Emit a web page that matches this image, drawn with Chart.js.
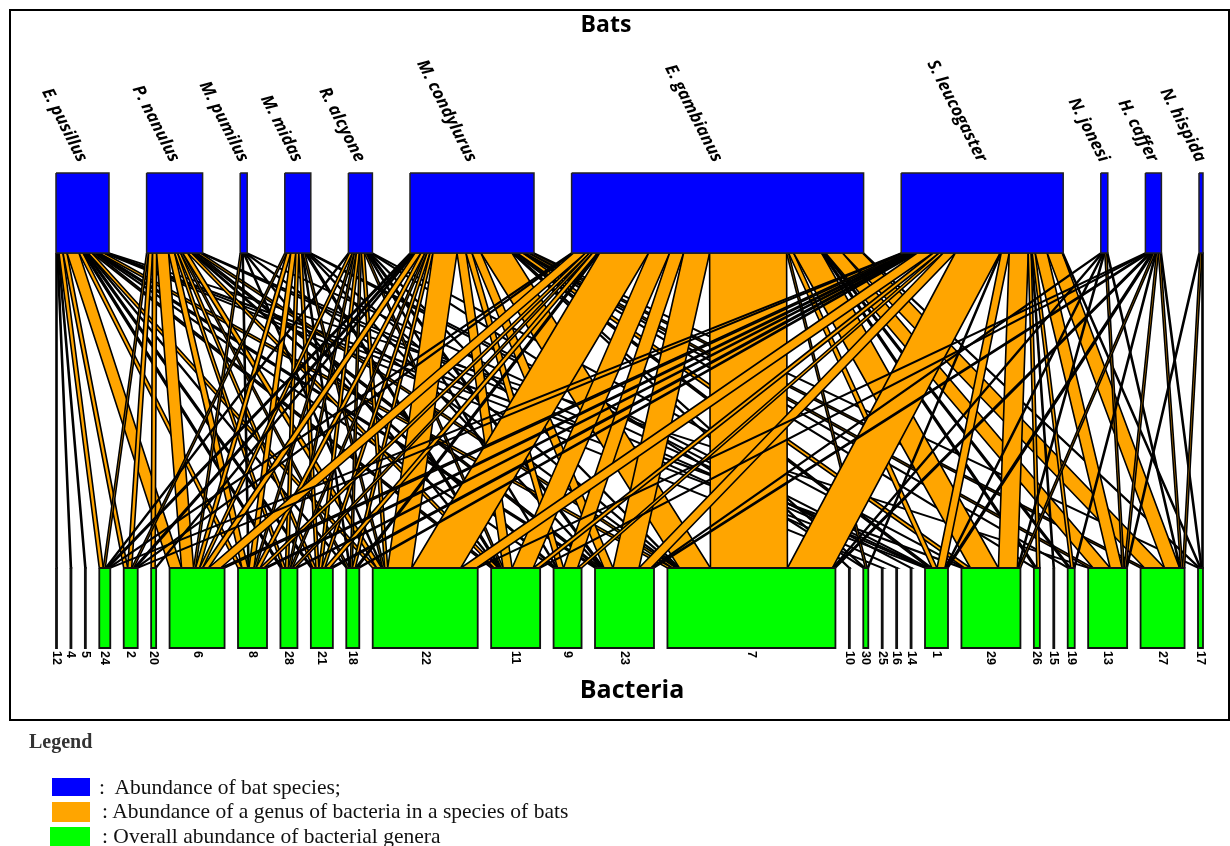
<!DOCTYPE html>
<html>
<head>
<meta charset="utf-8">
<title>Bats - Bacteria network</title>
<script src="https://cdn.jsdelivr.net/npm/chart.js@4/dist/chart.umd.min.js"></script>
<style>
  body { margin: 0; background: #fff; }
  #wrap { position: relative; width: 1230px; height: 846px; overflow: hidden; }
  #myChart { position: absolute; left: 0; top: 0; }
  .lg { position: absolute; font-family: "Liberation Serif", "Times New Roman", serif; font-size: 21.5px; line-height: 22px; color: #111; white-space: nowrap; }
  .sw { position: absolute; }
</style>
</head>
<body>
<div id="wrap">
  <canvas id="myChart" width="1230" height="846"></canvas>
  <div class="lg" style="left:29px;top:730px;font-weight:bold;font-size:20px;color:#333;">Legend</div>
  <div class="sw" style="left:52px;top:778px;width:38px;height:18px;background:#0000ff;"></div>
  <div class="lg" style="left:99px;top:776px;">:&nbsp; Abundance of bat species;</div>
  <div class="sw" style="left:52px;top:802px;width:38px;height:20px;background:#ffa500;"></div>
  <div class="lg" style="left:102px;top:800px;">: Abundance of a genus of bacteria in a species of bats</div>
  <div class="sw" style="left:50px;top:827px;width:40px;height:19px;background:#00ff00;"></div>
  <div class="lg" style="left:102px;top:825px;">: Overall abundance of bacterial genera</div>
</div>
<script>
// bat species (top row) and bacterial genera (bottom row), in drawing order
const bats = ['E. pusillus', 'P. nanulus', 'M. pumilus', 'M. midas', 'R. alcyone', 'M. condylurus',
              'E. gambianus', 'S. leucogaster', 'N. jonesi', 'H. caffer', 'N. hispida'];
const bacteria = ['12', '4', '5', '24', '2', '20', '6', '8', '28', '21', '18', '22', '11', '9', '23', '7',
                  '10', '30', '25', '16', '14', '1', '29', '26', '15', '19', '13', '27', '17'];

// abundance of each genus in each bat species (same order as bacteria)
const ePusillus     = [1, 1, 1, 4, 4, 0, 12, 4, 2, 2, 1, 4, 3, 1, 3, 5, 0, 0, 1, 0, 0, 1, 2, 0, 0, 0, 1, 0, 0];
const pNanulus      = [0, 0, 0, 2, 4, 4, 12, 6, 3, 3, 2, 5, 4, 2, 3, 4, 0, 0, 0, 1, 0, 1, 0, 0, 0, 0, 0, 0, 0];
const mPumilus      = [0, 0, 0, 0, 0, 0, 2, 1, 0, 0, 0, 1, 1, 0, 0, 1, 0, 0, 0, 0, 0, 1, 0, 0, 0, 0, 0, 0, 0];
const mMidas        = [0, 0, 0, 0, 2, 0, 4, 5, 3, 3, 1, 2, 2, 0, 1, 1, 0, 0, 0, 0, 1, 1, 0, 0, 0, 0, 0, 0, 0];
const rAlcyone      = [0, 0, 0, 1, 0, 0, 3, 2, 2, 3, 2, 3, 2, 1, 2, 1, 0, 1, 0, 0, 0, 0, 1, 0, 0, 0, 0, 0, 0];
const mCondylurus   = [0, 0, 0, 2, 2, 1, 6, 4, 2, 3, 3, 24, 9, 6, 9, 31, 1, 1, 0, 0, 0, 3, 6, 1, 0, 1, 4, 4, 1];
const eGambianus    = [0, 0, 0, 1, 1, 0, 12, 4, 3, 5, 2, 49, 21, 14, 26, 77, 0, 2, 0, 0, 0, 5, 28, 2, 0, 2, 17, 20, 1];
const sLeucogaster  = [0, 0, 0, 1, 1, 0, 4, 3, 2, 3, 2, 16, 6, 4, 12, 45, 0, 1, 0, 0, 0, 8, 19, 3, 1, 3, 12, 15, 1];
const nJonesi       = [0, 0, 0, 0, 0, 0, 0, 0, 0, 0, 0, 0, 0, 0, 1, 1, 0, 0, 0, 0, 0, 1, 1, 0, 0, 0, 2, 1, 0];
const hCaffer       = [0, 0, 0, 0, 0, 0, 0, 0, 0, 0, 0, 1, 1, 0, 2, 2, 0, 0, 0, 0, 0, 2, 2, 0, 0, 1, 2, 2, 1];
const nHispida      = [0, 0, 0, 0, 0, 0, 0, 0, 0, 0, 0, 0, 0, 0, 0, 0, 0, 0, 0, 0, 0, 0, 0, 0, 0, 0, 1, 2, 1];

const web = [ePusillus, pNanulus, mPumilus, mMidas, rAlcyone, mCondylurus,
             eGambianus, sLeucogaster, nJonesi, hCaffer, nHispida];

// layout (page units)
const rowLeft = 56, rowRight = 1203;
const topBox = [173, 253];
const lowBox = [568, 648];

const sum = a => a.reduce((s, v) => s + v, 0);
const batTotal = web.map(sum);
const bacTotal = bacteria.map((_, j) => sum(web.map(r => r[j])));
const grand = sum(batTotal);

function rowStarts(totals) {
  const gap = (rowRight - rowLeft - grand) / (totals.length - 1);
  let x = rowLeft;
  return totals.map(t => { const s = x; x += t + gap; return s; });
}
const batStart = rowStarts(batTotal);
const bacStart = rowStarts(bacTotal);

function rect(x0, x1, y0, y1) {
  return [{x: x0, y: y0}, {x: x1, y: y0}, {x: x1, y: y1}, {x: x0, y: y1}, {x: x0, y: y0}];
}

const datasets = [];
// links: orange bands, top segment ordered by genus, bottom segment ordered by bat
const batCur = batStart.slice();
const bacCur = bacStart.slice();
const links = [];
web.forEach((row, i) => {
  row.forEach((v, j) => {
    if (!v) return;
    const t0 = batCur[i], b0 = bacCur[j];
    batCur[i] += v; bacCur[j] += v;
    links.push([
      {x: t0, y: topBox[1]}, {x: t0 + v, y: topBox[1]},
      {x: b0 + v, y: lowBox[0]}, {x: b0, y: lowBox[0]}, {x: t0, y: topBox[1]}
    ]);
  });
});
links.forEach((pts, k) => {
  datasets.push({
    data: pts, showLine: true, fill: 'shape', tension: 0,
    backgroundColor: '#ffa500', borderColor: '#000', borderWidth: 1.6,
    pointRadius: 0, order: 1 + links.length - k
  });
});
// bat boxes
batTotal.forEach((t, i) => {
  datasets.push({
    data: rect(batStart[i], batStart[i] + t, topBox[0], topBox[1]),
    showLine: true, fill: 'shape', tension: 0,
    backgroundColor: '#0000ff', borderColor: '#222', borderWidth: 1.5, pointRadius: 0, order: 0
  });
});
// bacteria boxes
bacTotal.forEach((t, j) => {
  datasets.push({
    data: rect(bacStart[j], bacStart[j] + t, lowBox[0], lowBox[1]),
    showLine: true, fill: 'shape', tension: 0,
    backgroundColor: '#00ff00', borderColor: '#111', borderWidth: 1.8, pointRadius: 0, order: 0
  });
});

// frame, titles and rotated labels
const webText = {
  id: 'webText',
  afterDraw(chart) {
    const {ctx, scales: {x, y}} = chart;
    ctx.save();
    ctx.strokeStyle = '#000';
    ctx.lineWidth = 2;
    ctx.strokeRect(10, 10, 1219, 710);
    ctx.fillStyle = '#000';
    ctx.textAlign = 'center';
    ctx.textBaseline = 'middle';
    ctx.font = 'bold 23px "Open Sans", sans-serif';
    ctx.fillText('Bats', 606, 25);
    ctx.font = 'bold 25px "Open Sans", sans-serif';
    ctx.fillText('Bacteria', 632, 691);

    ctx.font = 'italic bold 17px "Open Sans", sans-serif';
    ctx.textAlign = 'right';
    bats.forEach((name, i) => {
      const cx = x.getPixelForValue(batStart[i] + batTotal[i] / 2);
      ctx.save();
      ctx.translate(cx, y.getPixelForValue(topBox[0] - 12));
      ctx.rotate(63 * Math.PI / 180);
      ctx.fillText(name, 0, 0);
      ctx.restore();
    });

    ctx.font = 'bold 12.5px "Liberation Sans", Arial, sans-serif';
    ctx.textAlign = 'left';
    bacteria.forEach((lab, j) => {
      const cx = x.getPixelForValue(bacStart[j] + bacTotal[j] / 2);
      ctx.save();
      ctx.translate(cx, y.getPixelForValue(lowBox[1] + 3));
      ctx.rotate(Math.PI / 2);
      ctx.fillText(lab, 0, 0);
      ctx.restore();
    });
    ctx.restore();
  }
};

new Chart(document.getElementById('myChart'), {
  type: 'scatter',
  data: { datasets },
  options: {
    responsive: false,
    animation: false,
    events: [],
    layout: { padding: 0 },
    plugins: { legend: { display: false }, tooltip: { enabled: false } },
    scales: {
      x: { type: 'linear', min: 0, max: 1230, display: false },
      y: { type: 'linear', min: 0, max: 846, reverse: true, display: false }
    }
  },
  plugins: [webText]
});
</script>
</body>
</html>
